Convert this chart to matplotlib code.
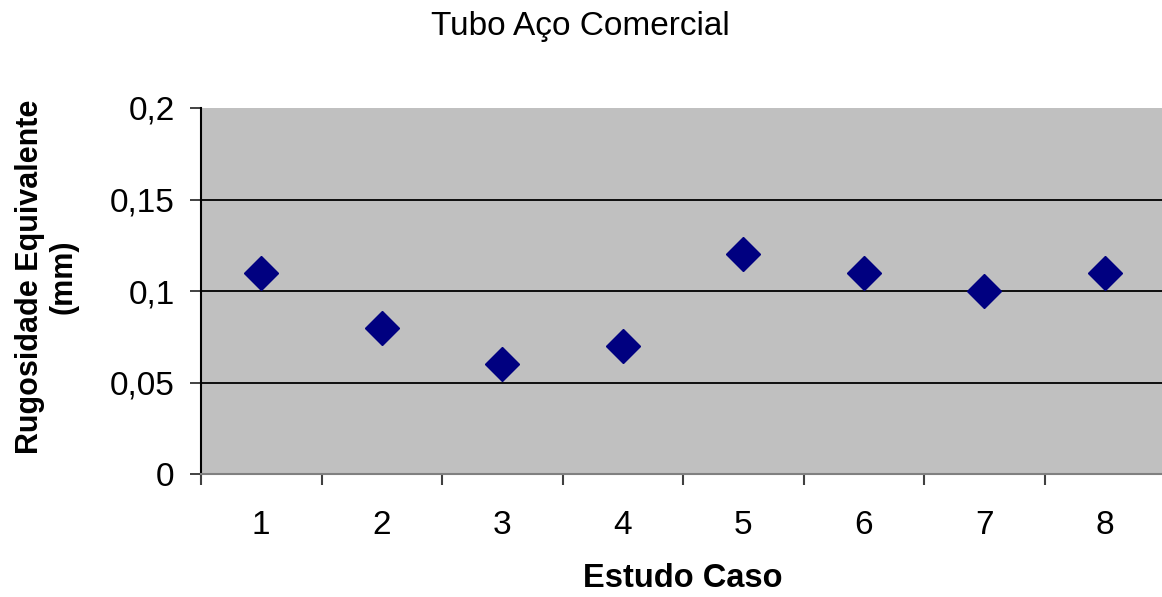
import matplotlib
matplotlib.use("Agg")
import matplotlib.pyplot as plt
from matplotlib.ticker import FixedLocator

plt.rcParams['font.family'] = ['Liberation Sans', 'DejaVu Sans']

# Data
casos = [1, 2, 3, 4, 5, 6, 7, 8]
rugosidade = [0.11, 0.08, 0.06, 0.07, 0.12, 0.11, 0.10, 0.11]
y_ticks = [0, 0.05, 0.1, 0.15, 0.2]
y_labels = ['0', '0,05', '0,1', '0,15', '0,2']

W, H = 1162, 597
fig = plt.figure(figsize=(W / 100, H / 100), dpi=100)
ax = fig.add_axes([201 / W, 1 - 474 / H, (1165 - 201) / W, (474 - 108) / H])
ax.set_facecolor('#c0c0c0')

# Horizontal gridlines
for v in y_ticks[1:-1]:
    ax.axhline(v, color='#000000', lw=1.3, zorder=1)

ax.plot(casos, rugosidade, linestyle='none', marker='D', markersize=17.5,
        color='#000080', markeredgecolor='#000080', zorder=3)

ax.set_xlim(0.5, 8.5)
ax.set_ylim(0, 0.2)

ax.set_yticks(y_ticks)
ax.set_yticklabels(y_labels)
ax.set_xticks(casos)
ax.set_xticklabels([str(c) for c in casos])
ax.xaxis.set_minor_locator(FixedLocator([c + 0.5 for c in [0] + casos]))

ax.tick_params(axis='y', which='major', length=8, width=1.3, color='#333333',
               labelsize=24, pad=11, direction='out')
ax.tick_params(axis='x', which='major', length=0, labelsize=24, pad=26)
ax.tick_params(axis='x', which='minor', length=8, width=1.5, color='#404040',
               direction='out')

for s in ['top', 'right']:
    ax.spines[s].set_visible(False)
ax.spines['left'].set_color('#000000')
ax.spines['left'].set_linewidth(1.5)
ax.spines['bottom'].set_color('#808080')
ax.spines['bottom'].set_linewidth(1.5)

ax.set_xlabel('Estudo Caso', fontsize=23.5, fontweight='bold', labelpad=16)
fig.text(47 / W, 1 - 277 / H, 'Rugosidade Equivalente\n(mm)', rotation=90,
         fontsize=22, fontweight='bold', ha='center', va='center',
         multialignment='center', linespacing=1.15)
fig.text(580 / W, 1 - 27 / H, 'Tubo Aço Comercial', fontsize=24,
         ha='center', va='center')

fig.savefig('out.png', dpi=100)
